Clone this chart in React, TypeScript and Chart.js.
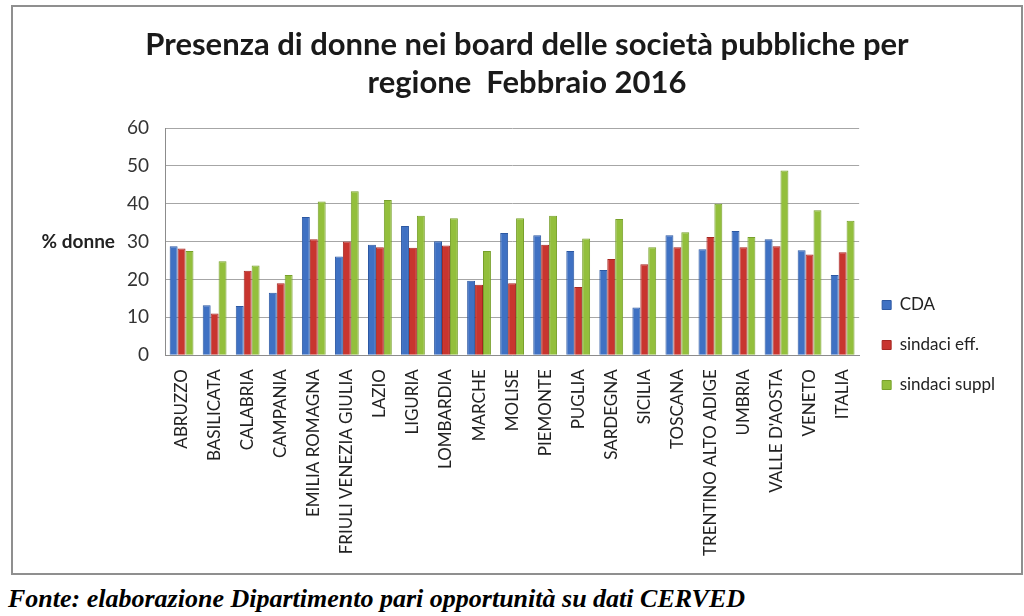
import React, { useEffect, useRef } from "react";
import { Chart, registerables } from "chart.js";

Chart.register(...registerables);

const categories = [
  "ABRUZZO", "BASILICATA", "CALABRIA", "CAMPANIA", "EMILIA ROMAGNA",
  "FRIULI VENEZIA GIULIA", "LAZIO", "LIGURIA", "LOMBARDIA", "MARCHE",
  "MOLISE", "PIEMONTE", "PUGLIA", "SARDEGNA", "SICILIA", "TOSCANA",
  "TRENTINO ALTO ADIGE", "UMBRIA", "VALLE D'AOSTA", "VENETO", "ITALIA",
];

const cda = [28.8, 13.2, 13, 16.5, 36.5, 26.1, 29.2, 34.1, 30.1, 19.7, 32.3, 31.7, 27.5, 22.5, 12.6, 31.7, 28, 32.8, 30.6, 27.7, 21.2];
const sindaciEff = [28.2, 11, 22.3, 19, 30.6, 30, 28.5, 28.4, 29, 18.6, 19, 29.2, 18, 25.4, 24, 28.5, 31.2, 28.5, 28.8, 26.6, 27.2];
const sindaciSuppl = [27.5, 24.8, 23.7, 21.2, 40.6, 43.3, 41, 36.8, 36.2, 27.5, 36.2, 36.8, 30.8, 36, 28.5, 32.5, 40, 31.2, 48.8, 38.3, 35.5];

const seriesNames = ["CDA", "sindaci eff.", "sindaci suppl"];
const yTicks = [0, 10, 20, 30, 40, 50, 60];
const titleLines = ["Presenza di donne nei board delle società pubbliche per", "regione  Febbraio 2016"];
const yAxisLabel = "% donne";

const FONT = "Lato, 'Open Sans', sans-serif";

const textPlugin = {
  id: "extraText",
  afterDraw(chart: any) {
    const { ctx, chartArea } = chart;
    ctx.save();
    ctx.fillStyle = "#1a1a1a";
    ctx.textAlign = "center";
    ctx.textBaseline = "middle";
    ctx.font = `bold 31px ${FONT}`;
    ctx.fillText(titleLines[0], 527, 45);
    ctx.fillText(titleLines[1], 527, 83);
    ctx.font = `bold 19px ${FONT}`;
    ctx.fillStyle = "#222";
    ctx.textAlign = "right";
    ctx.fillText(yAxisLabel, 115, (chartArea.top + chartArea.bottom) / 2);
    ctx.restore();
  },
};

export default function App() {
  const ref = useRef<HTMLCanvasElement>(null);

  useEffect(() => {
    if (!ref.current) return;
    const chart = new Chart(ref.current, {
      type: "bar",
      data: {
        labels: categories,
        datasets: [
          { label: seriesNames[0], data: cda, backgroundColor: "#3f71c3", borderColor: "#2c58a2", borderWidth: 1 },
          { label: seriesNames[1], data: sindaciEff, backgroundColor: "#c8352f", borderColor: "#a52620", borderWidth: 1 },
          { label: seriesNames[2], data: sindaciSuppl, backgroundColor: "#93bf3c", borderColor: "#77a02a", borderWidth: 1 },
        ],
      },
      options: {
        responsive: false,
        animation: false,
        layout: { padding: { left: 111, right: 19, top: 128, bottom: 13 } },
        datasets: { bar: { categoryPercentage: 0.72, barPercentage: 1 } } as any,
        plugins: {
          title: { display: false },
          legend: {
            position: "right",
            labels: {
              font: { family: FONT, size: 17 },
              color: "#222",
              boxWidth: 9,
              boxHeight: 9,
              padding: 23,
            },
          },
          tooltip: { enabled: false },
        },
        scales: {
          x: {
            grid: { display: false },
            border: { color: "#8c8c8c" },
            ticks: {
              font: { family: FONT, size: 17 },
              color: "#222",
              maxRotation: 90,
              minRotation: 90,
              autoSkip: false,
              padding: 6,
            },
          },
          y: {
            min: 0,
            max: 60,
            afterBuildTicks: (axis: any) => {
              axis.ticks = yTicks.map((v) => ({ value: v }));
            },
            grid: { color: "#a6a6a6", drawTicks: false },
            border: { color: "#8c8c8c" },
            ticks: {
              font: { family: FONT, size: 19 },
              color: "#333",
              padding: 16,
            },
          },
        },
      },
      plugins: [textPlugin],
    });
    return () => chart.destroy();
  }, []);

  return (
    <div style={{ position: "absolute", left: 0, top: 0, width: 1024, height: 616, background: "#fff", overflow: "hidden" }}>
      <div style={{ position: "absolute", left: 11, top: 5, width: 1008, height: 566, border: "2px solid #8f8f8f" }} />
      <canvas ref={ref} width={1024} height={575} style={{ position: "absolute", left: 0, top: 0 }} />
      <div
        style={{
          position: "absolute",
          left: 8,
          top: 584,
          fontFamily: "'Liberation Serif', 'DejaVu Serif', serif",
          fontStyle: "italic",
          fontWeight: "bold",
          fontSize: 26,
          lineHeight: "30px",
          whiteSpace: "nowrap",
          color: "#000",
        }}
      >
        Fonte: elaborazione Dipartimento pari opportunità su dati CERVED
      </div>
    </div>
  );
}
